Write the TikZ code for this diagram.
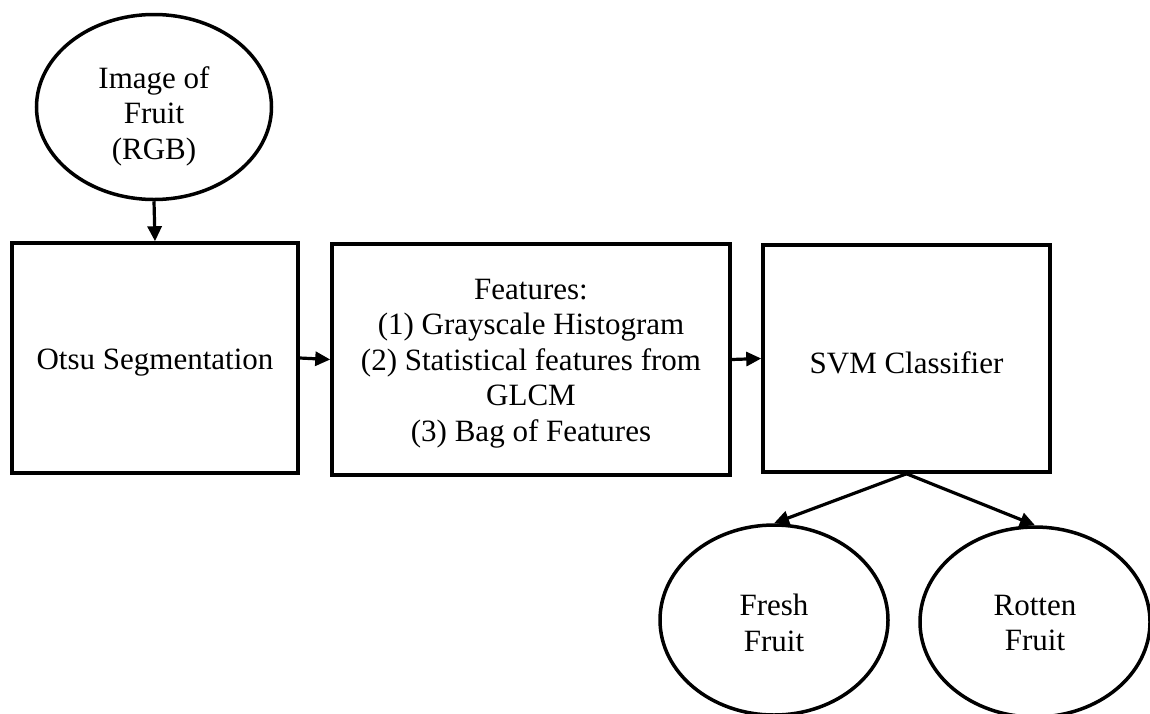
\documentclass[tikz,border=0pt]{standalone}
\usepackage{fontspec}
\setmainfont{Liberation Serif}
\usetikzlibrary{shapes.geometric,arrows.meta}
\tikzset{
  lbl/.style={font=\fontsize{31}{35.5}\selectfont, align=center, inner sep=0pt},
  oval/.style={draw, line width=3.5pt, ellipse, inner sep=0pt},
  stepbox/.style={draw, line width=3.5pt, rectangle, inner sep=0pt},
  conn/.style={line width=3.2pt, -{Triangle[length=15pt,width=14pt]}}
}
\begin{document}
\begin{tikzpicture}[x=1pt,y=-1pt]
\useasboundingbox (0,0) rectangle (1150,713);
\clip (0,0) rectangle (1150,713);
\fill[white] (0,0) rectangle (1150,713);
\node[oval, minimum width=235pt, minimum height=185pt] (img) at (154,107) {};
\node[stepbox, minimum width=286pt, minimum height=230pt] (otsu) at (155,358) {};
\node[stepbox, minimum width=398pt, minimum height=231pt] (feat) at (531,359.5) {};
\node[stepbox, minimum width=287pt, minimum height=227pt] (svm) at (906.5,358.5) {};
\node[oval, minimum width=228pt, minimum height=190pt] (fresh) at (774,620) {};
\node[oval, minimum width=230pt, minimum height=190pt] (rotten) at (1035,622) {};
\node[lbl] (img-t) at ([yshift=-9pt]img.center) {Image of\\Fruit\\(RGB)};
\node[lbl] (otsu-t) at ([yshift=-5pt]otsu.center) {Otsu Segmentation};
\node[lbl] (feat-t) at ([yshift=-4pt]feat.center) {Features:\\(1) Grayscale Histogram\\(2) Statistical features from\\GLCM\\(3) Bag of Features};
\node[lbl] (svm-t) at ([yshift=-4pt]svm.center) {SVM Classifier};
\node[lbl] (fresh-t) at ([yshift=-3pt]fresh.center) {Fresh\\Fruit};
\node[lbl] (rotten-t) at ([yshift=-1pt]rotten.center) {Rotten\\Fruit};
\draw[conn] (img.south) -- (otsu.north);
\draw[conn] (otsu.east) -- (feat.west);
\draw[conn] (feat.east) -- (svm.west);
\draw[conn] (svm.south) -- (fresh.north);
\draw[conn] (svm.south) -- (rotten.north);
\end{tikzpicture}
\end{document}
